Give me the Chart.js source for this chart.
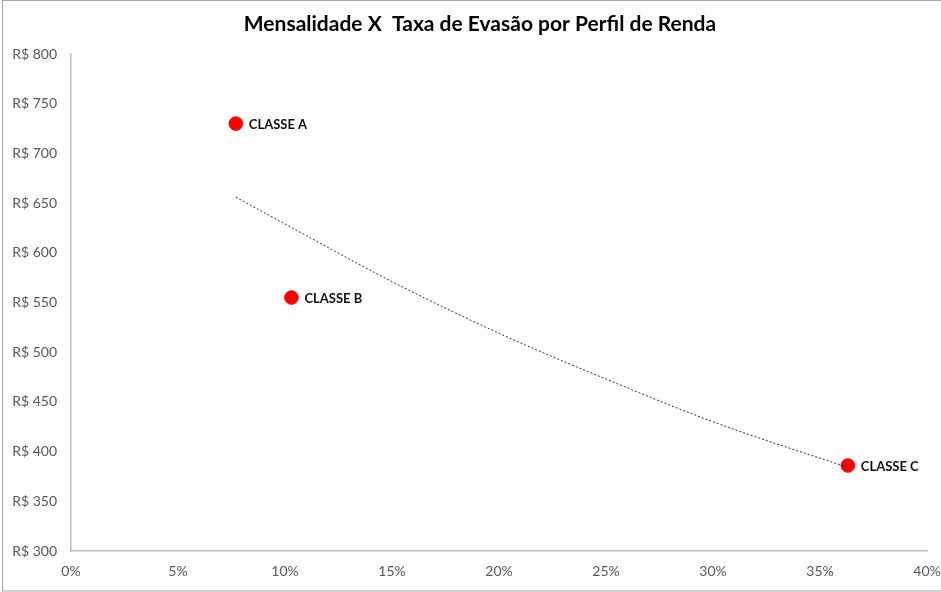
<!DOCTYPE html>
<html>
<head>
<meta charset="utf-8">
<script src="https://cdn.jsdelivr.net/npm/chart.js@4/dist/chart.umd.min.js"></script>
<style>
  body { margin: 0; background: #fff; }
  canvas { display: block; }
</style>
</head>
<body>
<canvas id="chart" width="941" height="592"></canvas>
<script>
const chartTitle = 'Mensalidade X  Taxa de Evasão por Perfil de Renda';
const classes = ['CLASSE A', 'CLASSE B', 'CLASSE C'];
const evasao = [7.7, 10.3, 36.3];          // taxa de evasão, %
const mensalidade = [730, 555, 386];       // R$

// exponential trendline
const trendX = [7.7, 10, 15, 20, 25, 30, 36.3];
const trendY = [656, 629, 571, 519, 473, 430, 384];

const xTicks = [0, 5, 10, 15, 20, 25, 30, 35, 40];
const yTicks = [300, 350, 400, 450, 500, 550, 600, 650, 700, 750, 800];

const fontFamily = 'Lato, Calibri, sans-serif';

Chart.defaults.font.family = fontFamily;

// chart border + title (Excel puts the title over the whole chart, a bit right of centre)
const frame = {
    id: 'frame',
    beforeDraw(chart) {
        const ctx = chart.ctx;
        ctx.save();
        ctx.fillStyle = '#fff';
        ctx.fillRect(0, 0, chart.width, chart.height);
        ctx.strokeStyle = '#a6a6a6';
        ctx.lineWidth = 1;
        ctx.strokeRect(2.5, 0.5, chart.width + 10, chart.height - 1.5);

        ctx.font = 'bold 21px ' + fontFamily;
        ctx.fillStyle = '#000';
        ctx.textAlign = 'center';
        ctx.textBaseline = 'middle';
        ctx.fillText(chartTitle, 480, 24);
        ctx.restore();
    }
};

const pointLabels = {
    id: 'pointLabels',
    afterDatasetsDraw(chart) {
        const ctx = chart.ctx;
        const meta = chart.getDatasetMeta(1);
        ctx.save();
        ctx.font = 'bold 13px ' + fontFamily;
        ctx.fillStyle = '#111';
        ctx.textBaseline = 'middle';
        meta.data.forEach((pt, i) => {
            ctx.fillText(classes[i], pt.x + 13, pt.y + 1);
        });
        ctx.restore();
    }
};

new Chart(document.getElementById('chart'), {
    type: 'scatter',
    data: {
        datasets: [
            {
                label: 'Tendência',
                type: 'line',
                data: trendX.map((x, i) => ({ x: x, y: trendY[i] })),
                borderColor: '#333',
                borderWidth: 1,
                borderDash: [2, 2],
                pointRadius: 0,
                cubicInterpolationMode: 'monotone',
                fill: false
            },
            {
                label: 'Perfil de Renda',
                data: evasao.map((x, i) => ({ x: x, y: mensalidade[i] })),
                backgroundColor: '#ff0000',
                borderColor: '#ff0000',
                pointRadius: 6.8,
                pointHoverRadius: 6.8
            }
        ]
    },
    options: {
        responsive: false,
        animation: false,
        layout: { padding: { left: 0, right: 14, top: 54, bottom: 0 } },
        plugins: {
            legend: { display: false },
            tooltip: { enabled: false },
            title: { display: false }
        },
        scales: {
            x: {
                type: 'linear',
                min: 0,
                max: 40,
                afterFit(scale) {
                    scale.height = 41;
                    scale.paddingLeft = 0;
                    scale.paddingRight = 0;
                },
                afterBuildTicks(scale) { scale.ticks = xTicks.map(v => ({ value: v })); },
                grid: { display: false, drawTicks: false },
                border: { display: true, color: '#bfbfbf', width: 1.5 },
                ticks: {
                    color: '#595959',
                    font: { size: 14 },
                    padding: 12,
                    maxRotation: 0,
                    callback: v => v + '%'
                }
            },
            y: {
                type: 'linear',
                min: 300,
                max: 800,
                afterFit(scale) { scale.width = 71; },
                afterBuildTicks(scale) { scale.ticks = yTicks.map(v => ({ value: v })); },
                grid: { display: false, drawTicks: false },
                border: { display: true, color: '#bfbfbf', width: 1.5 },
                ticks: {
                    color: '#595959',
                    font: { size: 14 },
                    padding: 14,
                    callback: v => 'R$ ' + v
                }
            }
        }
    },
    plugins: [frame, pointLabels]
});
</script>
</body>
</html>
